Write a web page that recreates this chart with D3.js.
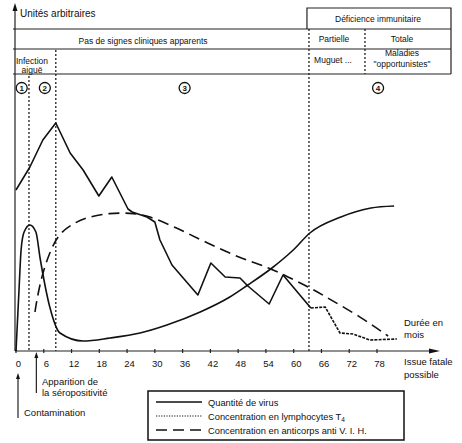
<!DOCTYPE html>
<html lang="fr">
<head>
<meta charset="UTF-8">
<title>Évolution de l'infection par le V.I.H.</title>
<style>
    body { margin: 0; background: #fff; }
    svg { display: block; font-family: "Liberation Sans", Arial, sans-serif; fill: #111; }
    .curve { fill: none; stroke: #111; stroke-width: 1.6px; stroke-linejoin: round; }
    .dots { stroke: #222; stroke-width: 1.3px; stroke-dasharray: 2,2; }
    .frame { stroke: #222; stroke-width: 1.2px; }
    .axisX .domain { display: none; }
    .axisX text { font-size: 9.5px; fill: #111; }
</style>
</head>
<body>
<script src="https://d3js.org/d3.v7.min.js"></script>
<script>
    // months on the x axis, values in arbitrary units (0-100)
    var monthTicks = [0, 6, 12, 18, 24, 30, 36, 42, 48, 54, 60, 66, 72, 78];

    var virus = [
        [0, 0], [0.65, 24.4], [1.1, 40.4], [1.75, 47.6], [3.0, 50.4], [4.3, 47.6],
        [5.2, 37.2], [7.3, 17.6], [9.5, 7.2], [14.5, 4], [20.3, 5.2], [26.8, 7.2],
        [32.6, 10.4], [39.8, 15.6], [46.2, 21.6], [50.1, 26.4], [55.3, 33.2],
        [59.9, 40.4], [63.5, 47.2], [70.2, 53.6], [76.7, 57.2], [81.7, 58]
    ];

    var lymphoT4 = [
        [0, 64.4], [3.0, 73.6], [5.8, 84.4], [8.6, 91.2], [11.7, 79.2], [14.5, 72.4],
        [17.9, 62], [20.7, 69.6], [24.2, 56.8], [25.1, 55.6], [28.3, 53.6], [30, 51.6],
        [31.1, 44.4], [33.7, 34.4], [39.3, 22.4], [42.1, 35.2], [45.2, 29.6],
        [48.4, 29.2], [50.1, 26], [54.7, 18.8], [57.7, 30.4], [63.7, 17.2]
    ];
    var lymphoT4Tail = [
        [63.7, 17.2], [66.8, 17.6], [70, 7.2], [72.8, 6.8], [76.5, 4.4], [82.3, 4.8]
    ];

    var anticorps = [
        [4.1, 15.6], [4.5, 20.4], [5.6, 30.4], [7.3, 39.6], [9.1, 46.4], [11.7, 50.4],
        [15.3, 53.6], [20.3, 55.2], [24.6, 55.2], [28.3, 54.4], [34.8, 49.2],
        [41.3, 43.2], [48.4, 37.2], [54.9, 33.2], [59.2, 29.2], [63.7, 25.2],
        [68.1, 20.4], [74.5, 13.6], [80.4, 6]
    ];

    // phase boundaries (months)
    var phaseMonths = [2.8, 8.6, 63.3, 75.4];
    var phaseNumbers = [{ n: "1", m: 0.8 }, { n: "2", m: 5.8 }, { n: "3", m: 36 }, { n: "4", m: 77.8 }];

    var legendItems = [
        { label: "Quantité de virus", dash: null },
        { label: "Concentration en lymphocytes T", sub: "4", dash: "1.2,1.4" },
        { label: "Concentration en anticorps anti V. I. H.", dash: "11,6" }
    ];

    var W = 462, H = 443;
    var axisY = 351, axisX = 15;

    var x = d3.scaleLinear().domain([0, 78]).range([16, 377]);
    var y = d3.scaleLinear().domain([0, 100]).range([axisY, 101]);

    var svg = d3.select("body").append("svg")
        .attr("width", W)
        .attr("height", H);

    var g = svg.append("g");

    // header table
    var tableLeft = 13, tableRight = 451;
    [29, 49, 74].forEach(function (yy) {
        g.append("line").attr("class", "frame")
            .attr("x1", tableLeft).attr("x2", tableRight)
            .attr("y1", yy).attr("y2", yy);
    });
    var defLeft = x(phaseMonths[2]) - 2;
    g.append("path").attr("class", "frame").attr("fill", "none")
        .attr("d", "M" + defLeft + ",29V8H" + tableRight + "V74");

    function txt(s, xx, yy, size, anchor) {
        return g.append("text").attr("x", xx).attr("y", yy)
            .attr("font-size", size).attr("text-anchor", anchor || "middle").text(s);
    }
    txt("Unités arbitraires", 20, 17, 10, "start");
    txt("Déficience immunitaire", 378, 22, 8.5);
    txt("Pas de signes cliniques apparents", 143, 44, 8.5);
    txt("Partielle", 334, 42, 8.5);
    txt("Totale", 402, 42, 8.5);
    txt("Infection", 32, 64, 8.5);
    txt("aiguë", 32, 73, 8.5);
    txt("Muguet ...", 333, 63, 8.5);
    txt("Maladies", 402, 56, 8.5);
    txt("\"opportunistes\"", 402, 67, 8.5);

    // phase dotted lines
    var phaseTop = [76, 50, 29, 29];
    var phaseBottom = [axisY, axisY, axisY, 74];
    phaseMonths.forEach(function (m, i) {
        g.append("line").attr("class", "dots")
            .attr("x1", x(m)).attr("x2", x(m))
            .attr("y1", phaseTop[i]).attr("y2", phaseBottom[i]);
    });

    // circled numbers
    phaseNumbers.forEach(function (p) {
        var cx = x(p.m) + 2;
        g.append("circle").attr("cx", cx).attr("cy", 88).attr("r", 5.5)
            .attr("fill", "#fff").attr("stroke", "#111").attr("stroke-width", 1.3);
        txt(p.n, cx, 91, 8).attr("font-weight", "bold");
    });

    // axes
    g.append("line").attr("class", "frame").attr("stroke-width", 1.5)
        .attr("x1", axisX).attr("x2", axisX).attr("y1", 6).attr("y2", axisY);
    g.append("path").attr("d", "M" + axisX + ",3l-2.5,8h5z").attr("fill", "#111");
    g.append("line").attr("class", "frame").attr("stroke-width", 1.5)
        .attr("x1", axisX).attr("x2", 432).attr("y1", axisY).attr("y2", axisY);
    g.append("path").attr("d", "M440," + axisY + "l-11,-2.5v5z").attr("fill", "#111");

    g.selectAll(".tickmark").data(monthTicks).enter().append("line")
        .attr("class", "frame")
        .attr("x1", function (d) { return x(d); }).attr("x2", function (d) { return x(d); })
        .attr("y1", axisY - 2).attr("y2", axisY + 2);

    g.append("g").attr("class", "axisX")
        .attr("transform", "translate(2," + axisY + ")")
        .call(d3.axisBottom(x).tickValues(monthTicks).tickSize(0).tickPadding(9));
    g.selectAll(".axisX .tick text").attr("dy", "0.75em");

    txt("Durée en", 404, 326, 9.5, "start");
    txt("mois", 404, 338, 9.5, "start");
    txt("Issue fatale", 404, 365, 9.5, "start");
    txt("possible", 404, 378, 9.5, "start");

    // event arrows
    function upArrow(xx, y0, y1) {
        g.append("line").attr("class", "frame").attr("x1", xx).attr("x2", xx)
            .attr("y1", y0 + 4).attr("y2", y1);
        g.append("path").attr("d", "M" + xx + "," + y0 + "l-2,6h4z").attr("fill", "#111");
    }
    upArrow(x(4.4), 352, 393);
    txt("Apparition de", 42, 385, 9.5, "start");
    txt("la séropositivité", 42, 396, 9.5, "start");
    upArrow(x(0) + 2, 373, 418);
    txt("Contamination", 24, 416, 9.5, "start");

    // curves
    var line = d3.line()
        .x(function (d) { return x(d[0]); })
        .y(function (d) { return y(d[1]); });

    g.append("path").datum(anticorps).attr("class", "curve")
        .attr("stroke-dasharray", "11,6")
        .attr("d", line.curve(d3.curveBasis));

    g.append("path").datum(lymphoT4).attr("class", "curve")
        .attr("stroke-width", 1.4)
        .attr("d", line.curve(d3.curveLinear));
    g.append("path").datum(lymphoT4Tail).attr("class", "curve")
        .attr("stroke-width", 1.4).attr("stroke-dasharray", "3,1.2")
        .attr("d", line.curve(d3.curveLinear));

    g.append("path").datum(virus).attr("class", "curve")
        .attr("d", line.curve(d3.curveMonotoneX));

    // legend
    var lg = g.append("g").attr("transform", "translate(148,391)");
    lg.append("rect").attr("width", 256).attr("height", 49)
        .attr("fill", "#fff").attr("stroke", "#111").attr("stroke-width", 1.5);
    legendItems.forEach(function (d, i) {
        var yy = 11 + i * 14;
        lg.append("line").attr("x1", 8).attr("x2", 54).attr("y1", yy).attr("y2", yy)
            .attr("stroke", "#111").attr("stroke-width", d.dash === "1.2,1.4" ? 1.2 : 1.4)
            .attr("stroke-dasharray", d.dash);
        var t = lg.append("text").attr("x", 60).attr("y", yy + 3.5)
            .attr("font-size", 9.3).text(d.label);
        if (d.sub) {
            t.append("tspan").attr("font-size", 6.5).attr("dy", 2.5).text(d.sub);
        }
    });
</script>
</body>
</html>
